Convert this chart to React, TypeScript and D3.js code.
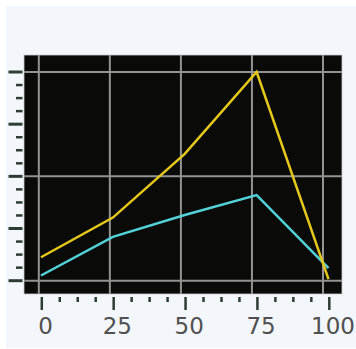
import React from "react";
import * as d3 from "d3";

const xValues = [0, 25, 50, 75, 100];
const yellowSeries = [0.45, 1.21, 2.43, 4.0, 0.03];
const cyanSeries = [0.1, 0.84, 1.26, 1.64, 0.24];
const xTickLabels = ["0", "25", "50", "75", "100"];
const yMajorTicks = [0, 1, 2, 3, 4];
const yGridValues = [0, 2, 4];

export default function App() {
  const W = 356, H = 349;
  const x = d3.scaleLinear().domain([0, 100]).range([41, 328.5]);
  const xGrid = d3.scaleLinear().domain([0, 100]).range([38.8, 323]);
  const y = d3.scaleLinear().domain([0, 4]).range([280.7, 72]);

  const line = d3
    .line<number>()
    .x((_, i) => x(xValues[i]))
    .y((d) => y(d));

  const xMinor: number[] = [];
  for (let v = 0; v < 100; v += 6.25) if (v % 25 !== 0) xMinor.push(v);
  const yMinor: number[] = [];
  for (let v = 0; v < 4; v += 0.25) if (v % 1 !== 0) yMinor.push(v);

  const tickColor = "#2e3d33";

  return (
    <svg
      width={W}
      height={H}
      style={{ position: "absolute", left: 0, top: 0, background: "#ffffff" }}
    >
      <rect x={6} y={6} width={350} height={342} fill="#f3f7fb" />
      <rect x={24} y={55} width={318} height={239} fill="#0a0a08" stroke="#c8ccd0" strokeWidth={0.8} />
      {xValues.map((v) => (
        <line key={"gx" + v} x1={xGrid(v)} x2={xGrid(v)} y1={55} y2={294} stroke="#939393" strokeWidth={2} />
      ))}
      {yGridValues.map((v) => (
        <line key={"gy" + v} x1={24} x2={342} y1={y(v)} y2={y(v)} stroke="#939393" strokeWidth={2} />
      ))}
      <path d={line(cyanSeries) || ""} fill="none" stroke="#52d2d8" strokeWidth={2.5} />
      <path d={line(yellowSeries) || ""} fill="none" stroke="#e6c81c" strokeWidth={2.5} />
      {yMajorTicks.map((v) => (
        <line key={"ym" + v} x1={8.5} x2={22.5} y1={y(v)} y2={y(v)} stroke={tickColor} strokeWidth={3} />
      ))}
      {yMinor.map((v) => (
        <line key={"yn" + v} x1={16} x2={22.5} y1={y(v)} y2={y(v)} stroke={tickColor} strokeWidth={2.5} />
      ))}
      {xValues.map((v) => (
        <line key={"xm" + v} x1={x(v) + 0.8} x2={x(v) + 0.8} y1={297} y2={310} stroke={tickColor} strokeWidth={2.5} />
      ))}
      {xMinor.map((v) => (
        <line key={"xn" + v} x1={x(v) + 0.8} x2={x(v) + 0.8} y1={297} y2={302} stroke={tickColor} strokeWidth={2.5} />
      ))}
      {xValues.map((v, i) => (
        <text
          key={"xl" + v}
          x={x(v) + 4.5}
          y={333.5}
          textAnchor="middle"
          fontFamily="'DejaVu Sans', sans-serif"
          fontSize={23}
          fill="#505050"
        >
          {xTickLabels[i]}
        </text>
      ))}
    </svg>
  );
}
